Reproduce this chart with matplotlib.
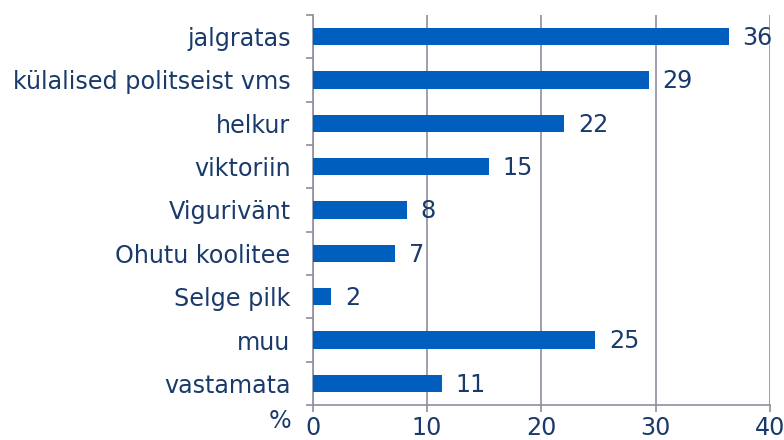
import matplotlib.pyplot as plt

categories = ['jalgratas', 'külalised politseist vms', 'helkur', 'viktoriin',
              'Vigurivänt', 'Ohutu koolitee', 'Selge pilk', 'muu', 'vastamata']
values = [36.4, 29.4, 22.0, 15.4, 8.2, 7.2, 1.6, 24.7, 11.3]
labels = ['36', '29', '22', '15', '8', '7', '2', '25', '11']
xticks = [0, 10, 20, 30, 40]

bar_color = '#005EBE'
text_color = '#1A3A6B'
axis_color = '#8E8E9E'
fs = 17.2

fig = plt.figure(figsize=(7.84, 4.40), dpi=100)
ax = fig.add_axes([0.399, 0.0795, 0.583, 0.8865])

ypos = list(range(len(categories)))
ax.barh(ypos, values, height=0.4, color=bar_color, zorder=3)
for y, v, lab in zip(ypos, values, labels):
	ax.text(v + 1.2, y + 0.03, lab, va='center', ha='left', fontsize=fs, color=text_color)

ax.set_xlim(0, 40)
ax.set_ylim(len(categories) - 0.5, -0.5)
ax.set_xticks(xticks)
ax.set_xticklabels([str(t) for t in xticks])
ax.set_yticks(ypos)
ax.set_yticklabels(categories)

# ticks at category boundaries on y axis
ax.set_yticks([i - 0.5 for i in range(len(categories) + 1)], minor=True)
ax.tick_params(axis='y', which='major', length=0, pad=16, labelsize=fs, labelcolor=text_color)
ax.tick_params(axis='y', which='minor', length=5, color=axis_color, width=1.2)
ax.tick_params(axis='x', length=5, color=axis_color, width=1.2, labelsize=fs,
			   labelcolor=text_color, pad=3)

ax.grid(axis='x', color=axis_color, linewidth=1.2, zorder=0)
for s in ['top', 'right']:
	ax.spines[s].set_visible(False)
for s in ['left', 'bottom']:
	ax.spines[s].set_color(axis_color)
	ax.spines[s].set_linewidth(1.2)

fig.text(280 / 784, 1 - 421 / 440, '%', fontsize=fs, color=text_color, ha='center', va='center')

fig.savefig('out.png', dpi=100)
